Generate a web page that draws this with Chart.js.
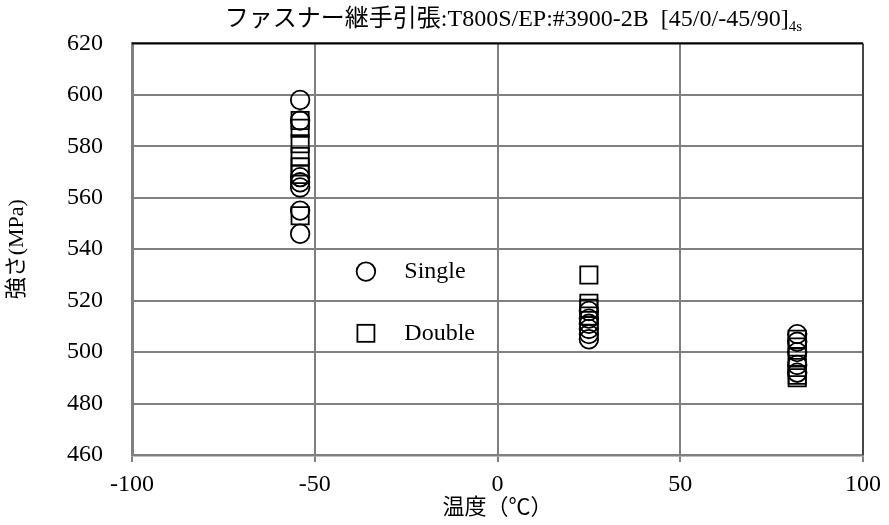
<!DOCTYPE html>
<html>
<head>
<meta charset="utf-8">
<script src="https://cdn.jsdelivr.net/npm/chart.js@4.4.1/dist/chart.umd.min.js"></script>
<style>
html,body{margin:0;padding:0;background:#fff;}
#wrap{width:889px;height:525px;}
</style>
</head>
<body>
<div id="wrap"><canvas id="c" width="889" height="525"></canvas></div>
<script>
// ---- data ----
const chartTitle = "ファスナー継手引張:T800S/EP:#3900-2B  [45/0/-45/90]";
const chartTitleSub = "4s";
const xAxisTitle = "温度（℃）";
const yAxisTitle = "強さ(MPa)";
const seriesNames = ["Single", "Double"];
const temperatures = [-54, 25, 82];
const singleStrength = [
  [598, 590, 568, 566, 564, 555, 546],
  [516, 513, 511, 509, 507, 505],
  [507, 504, 500, 495, 492]
];
const doubleStrength = [
  [590, 587, 581, 576, 572, 569, 553],
  [530, 519, 517, 514],
  [505, 502, 498, 494, 491, 490]
];
const xTicks = [-100, -50, 0, 50, 100];
const yTicks = [460, 480, 500, 520, 540, 560, 580, 600, 620];

function toPoints(groups) {
  const pts = [];
  groups.forEach((g, i) => g.forEach(v => pts.push({x: temperatures[i], y: v})));
  return pts;
}

const serif = "'Liberation Serif', 'Times New Roman', 'Noto Sans CJK JP', serif";

const framePlugin = {
  id: 'frame',
  afterDraw(chart) {
    const {ctx, chartArea: a} = chart;
    ctx.save();
    ctx.strokeStyle = '#000';
    ctx.lineWidth = 2;
    ctx.beginPath();
    ctx.moveTo(a.left, a.top);
    ctx.lineTo(a.right, a.top);
    ctx.stroke();
    ctx.lineWidth = 1.5;
    ctx.strokeStyle = '#333';
    ctx.beginPath();
    ctx.moveTo(a.right, a.top);
    ctx.lineTo(a.right, a.bottom);
    ctx.stroke();
    ctx.restore();
  }
};

const titlePlugin = {
  id: 'subTitle',
  afterDraw(chart) {
    const {ctx, chartArea: a} = chart;
    ctx.save();
    ctx.fillStyle = '#000';
    ctx.textBaseline = 'alphabetic';
    const mainFont = "24px " + serif;
    const subFont = "15px " + serif;
    ctx.font = mainFont;
    const w1 = ctx.measureText(chartTitle).width;
    ctx.font = subFont;
    const w2 = ctx.measureText(chartTitleSub).width;
    const cx = (a.left + a.right) / 2 + 16;
    let x = cx - (w1 + w2) / 2;
    const base = a.top - 17;
    ctx.font = mainFont;
    ctx.textAlign = 'left';
    ctx.fillText(chartTitle, x, base);
    ctx.font = subFont;
    ctx.fillText(chartTitleSub, x + w1, base + 5);
    ctx.restore();
  }
};

const legendPlugin = {
  id: 'inLegend',
  afterDraw(chart) {
    const {ctx} = chart;
    const xs = chart.scales.x, ys = chart.scales.y;
    ctx.save();
    ctx.strokeStyle = '#000';
    ctx.lineWidth = 1.8;
    ctx.fillStyle = '#000';
    ctx.font = "24px " + serif;
    ctx.textBaseline = 'middle';
    ctx.textAlign = 'left';
    const mx = xs.getPixelForValue(-36);
    const tx = xs.getPixelForValue(-25.5);
    const y1 = ys.getPixelForValue(531.3);
    const y2 = ys.getPixelForValue(507.3);
    ctx.beginPath();
    ctx.arc(mx, y1, 9.3, 0, Math.PI * 2);
    ctx.stroke();
    ctx.strokeRect(mx - 8.5, y2 - 8.5, 17, 17);
    ctx.fillText(seriesNames[0], tx, y1);
    ctx.fillText(seriesNames[1], tx, y2);
    ctx.restore();
  }
};

new Chart(document.getElementById('c'), {
  type: 'scatter',
  data: {
    datasets: [
      {
        label: seriesNames[0],
        data: toPoints(singleStrength),
        pointStyle: 'circle',
        pointRadius: 9.3,
        pointHoverRadius: 9.3,
        borderColor: '#000',
        backgroundColor: 'rgba(0,0,0,0)',
        borderWidth: 1.8
      },
      {
        label: seriesNames[1],
        data: toPoints(doubleStrength),
        pointStyle: 'rect',
        pointRadius: 12.2,
        pointHoverRadius: 12.2,
        borderColor: '#000',
        backgroundColor: 'rgba(0,0,0,0)',
        borderWidth: 1.8
      }
    ]
  },
  options: {
    responsive: false,
    animation: false,
    devicePixelRatio: 1,
    layout: {padding: {left: 0, top: 43, right: 25, bottom: 0}},
    plugins: {
      legend: {display: false},
      title: {display: false},
      tooltip: {enabled: false}
    },
    scales: {
      x: {
        type: 'linear',
        min: -100, max: 100,
        afterBuildTicks: s => { s.ticks = xTicks.map(v => ({value: v})); },
        afterFit: s => { s.height = 70; },
        grid: {color: '#808080', lineWidth: 2, tickLength: 7, tickColor: '#808080'},
        border: {color: '#808080', width: 2.5},
        ticks: {color: '#000', font: {family: serif, size: 24}, padding: 8, maxRotation: 0},
        title: {display: true, text: xAxisTitle, color: '#000', font: {family: serif, size: 22}, padding: {top: 0, bottom: 4}}
      },
      y: {
        type: 'linear',
        min: 460, max: 620,
        afterBuildTicks: s => { s.ticks = yTicks.map(v => ({value: v})); },
        afterFit: s => { s.width = 132; },
        grid: {color: '#808080', lineWidth: 2, drawTicks: false},
        border: {color: '#808080', width: 3},
        ticks: {color: '#000', font: {family: serif, size: 24}, padding: 29},
        title: {display: true, text: yAxisTitle, color: '#000', font: {family: serif, size: 22}, padding: {top: 4, bottom: 0}}
      }
    }
  },
  plugins: [framePlugin, titlePlugin, legendPlugin]
});
</script>
</body>
</html>
